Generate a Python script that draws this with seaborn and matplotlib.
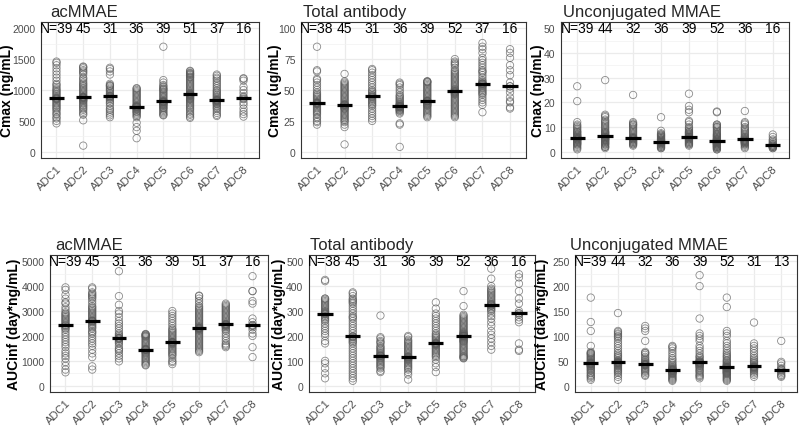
import numpy as np
import pandas as pd
import matplotlib
matplotlib.use("Agg")
import matplotlib.pyplot as plt
from matplotlib.ticker import MultipleLocator
import seaborn as sns

ADCS = ["ADC1", "ADC2", "ADC3", "ADC4", "ADC5", "ADC6", "ADC7", "ADC8"]

# ── acMMAE Cmax (ng/mL) ───────────────────────────────────────────
acmmae_cmax = [
    [460, 500, 540, 560, 600, 620, 650, 680, 700, 720, 740, 760, 780, 800, 820, 840, 850, 860, 860, 870,
     880, 900, 920, 940, 960, 980, 1000, 1020, 1050, 1080, 1100, 1150, 1200, 1250, 1300, 1350, 1400, 1440, 1460],
    [100, 510, 600, 620, 650, 680, 700, 720, 740, 760, 780, 800, 820, 830, 840, 850, 860, 870, 875, 880,
     880, 885, 890, 900, 920, 940, 960, 980, 1000, 1020, 1040, 1060, 1080, 1100, 1120, 1150, 1180, 1200,
     1250, 1280, 1300, 1320, 1350, 1370, 1380],
    [560, 590, 620, 650, 680, 700, 740, 780, 800, 830, 850, 870, 880, 890, 900, 905, 910, 930, 950, 980,
     1000, 1020, 1040, 1060, 1070, 1080, 1100, 1250, 1300, 1340, 1360],
    [220, 340, 400, 470, 560, 580, 600, 620, 640, 650, 660, 680, 690, 700, 710, 720, 725, 730, 735, 740,
     750, 760, 780, 800, 820, 840, 860, 880, 900, 920, 940, 960, 980, 1000, 1020, 1030],
    [590, 600, 620, 640, 660, 680, 700, 710, 720, 740, 750, 760, 770, 780, 790, 800, 805, 810, 810, 815,
     820, 830, 840, 860, 880, 900, 920, 940, 960, 980, 1000, 1010, 1020, 1040, 1060, 1080, 1120, 1160, 1700],
    [550, 570, 600, 620, 650, 680, 700, 720, 740, 760, 780, 800, 820, 840, 850, 860, 870, 880, 890, 900,
     905, 910, 915, 920, 925, 930, 935, 940, 950, 960, 980, 1000, 1020, 1040, 1060, 1080, 1100, 1120, 1140,
     1160, 1180, 1200, 1210, 1220, 1240, 1250, 1260, 1270, 1280, 1300, 1310],
    [580, 600, 630, 660, 690, 710, 730, 750, 770, 780, 790, 800, 810, 820, 825, 830, 835, 835, 840, 850,
     860, 880, 900, 920, 940, 960, 980, 1000, 1030, 1060, 1090, 1120, 1150, 1180, 1200, 1230, 1250],
    [570, 610, 650, 700, 760, 800, 850, 860, 880, 900, 950, 1000, 1050, 1150, 1180, 1190],
]
acmmae_cmax_n = [39, 45, 31, 36, 39, 51, 37, 16]

# ── Total antibody Cmax (ug/mL) ───────────────────────────────────
tab_cmax = [
    [22, 24, 25, 27, 28, 30, 31, 32, 33, 34, 35, 36, 37, 38, 38.5, 39, 39, 39.5, 39.5, 40, 40, 41, 42, 43,
     44, 45, 46, 47, 48, 50, 52, 54, 56, 58, 59, 65, 66, 85],
    [6, 20, 22, 24, 25, 26, 27, 28, 29, 30, 31, 32, 33, 34, 35, 35, 36, 36, 37, 37, 37.5, 38, 38, 38, 38.5,
     39, 40, 41, 42, 43, 44, 45, 46, 47, 48, 49, 50, 51, 52, 53, 54, 55, 56, 57, 63],
    [25, 27, 29, 31, 33, 35, 37, 38, 39, 40, 41, 42, 43, 44, 44.5, 45, 45.5, 46, 47, 48, 49, 50, 52, 54,
     56, 58, 60, 62, 64, 66, 67],
    [4, 22, 23, 31, 32, 33, 33.5, 34, 34.5, 35, 35.5, 36, 36, 36.5, 36.5, 37, 37, 37, 37, 37.5, 38, 38.5,
     39, 40, 41, 42, 43, 44, 45, 46, 48, 50, 52, 54, 55, 56],
    [28, 29, 30, 31, 32, 33, 34, 35, 36, 37, 37.5, 38, 38.5, 39, 39.5, 40, 40.5, 41, 41, 41, 41.5, 42, 43,
     44, 45, 46, 47, 48, 49, 50, 51, 52, 53, 54, 55, 56, 56.5, 57, 57],
    [28, 29, 30, 31, 32, 33, 34, 35, 36, 37, 38, 39, 40, 41, 42, 43, 44, 45, 46, 46.5, 47, 47.5, 48, 48,
     48.5, 49, 49, 49.5, 50, 50.5, 51, 52, 53, 54, 55, 56, 57, 58, 59, 60, 61, 62, 63, 64, 65, 66, 68, 70,
     71, 72, 73, 75],
    [32, 38, 40, 42, 44, 46, 47, 48, 49, 50, 51, 52, 53, 53.5, 54, 54.5, 55, 55, 55, 55.5, 56, 57, 58, 60,
     62, 64, 65, 66, 68, 70, 72, 74, 76, 80, 83, 85, 88],
    [35, 36, 40, 41, 44, 48, 51, 53, 53, 56, 62, 66, 70, 76, 80, 83],
]
tab_cmax_n = [38, 45, 31, 36, 39, 52, 37, 16]

# ── Unconjugated MMAE Cmax (ng/mL) ────────────────────────────────
mmae_cmax = [
    [1, 1.5, 2, 2.5, 3, 3, 3.5, 3.5, 4, 4, 4.5, 4.5, 5, 5, 5, 5, 5.5, 5.5, 5.5, 5.5, 6, 6, 6, 6.5, 6.5, 7,
     7, 7.5, 8, 8, 8.5, 9, 9.5, 10, 10.5, 11, 12, 20.5, 26.5],
    [1.5, 2, 2, 2.5, 3, 3, 3.5, 3.5, 4, 4, 4.5, 4.5, 5, 5, 5, 5.5, 5.5, 5.5, 6, 6, 6, 6, 6.5, 6.5, 7, 7,
     7.5, 7.5, 8, 8, 8.5, 9, 9.5, 10, 10.5, 11, 11.5, 12, 12.5, 13, 14, 14.5, 15, 29],
    [2.5, 3, 3, 3.5, 3.5, 4, 4, 4.5, 4.5, 5, 5, 5, 5.5, 5.5, 5.5, 5.5, 6, 6, 6.5, 7, 7.5, 8, 8.5, 9, 9.5,
     10, 10.5, 11, 11, 11.5, 12, 23],
    [1.5, 1.5, 2, 2, 2.5, 2.5, 3, 3, 3, 3.5, 3.5, 3.5, 3.5, 4, 4, 4, 4, 4, 4, 4.5, 4.5, 4.5, 5, 5, 5, 5.5,
     5.5, 6, 6, 6.5, 6.5, 7, 7, 7.5, 8.5, 14],
    [2.5, 3, 3, 3.5, 3.5, 4, 4, 4.5, 4.5, 5, 5, 5, 5.5, 5.5, 5.5, 6, 6, 6, 6, 6, 6.5, 6.5, 7, 7, 7.5, 7.5,
     8, 8, 8.5, 9, 9.5, 10, 11, 12, 12.5, 16, 17, 18.5, 23.5],
    [1, 1, 1.5, 1.5, 2, 2, 2, 2.5, 2.5, 2.5, 3, 3, 3, 3, 3.5, 3.5, 3.5, 3.5, 4, 4, 4, 4, 4, 4, 4.5, 4.5,
     4.5, 4.5, 5, 5, 5, 5, 5.5, 5.5, 6, 6, 6.5, 6.5, 7, 7, 7.5, 8, 8.5, 9, 9.5, 10, 10, 10.5, 11, 11, 16,
     16.3],
    [1.5, 2, 2.5, 3, 3, 3.5, 3.5, 3.5, 4, 4, 4, 4, 4.5, 4.5, 4.5, 4.5, 4.5, 5, 5, 5, 5.5, 5.5, 6, 6, 6.5,
     7, 7.5, 8, 8.5, 9, 9.5, 10, 11, 11.5, 12, 16.5],
    [1.5, 1.5, 2, 2, 2, 2.5, 2.5, 2.5, 3, 3, 3.5, 4, 4.5, 5, 6, 7],
]
mmae_cmax_n = [39, 44, 32, 36, 39, 52, 36, 16]

# ── acMMAE AUCinf (day*ng/mL) ─────────────────────────────────────
acmmae_auc = [
    [540, 650, 800, 950, 1100, 1200, 1300, 1400, 1550, 1650, 1750, 1850, 1950, 2050, 2150, 2250, 2300,
     2350, 2400, 2420, 2450, 2500, 2550, 2600, 2650, 2700, 2750, 2800, 2850, 2900, 2950, 3050, 3150, 3300,
     3350, 3500, 3650, 3850, 3950],
    [650, 780, 1150, 1300, 1450, 1600, 1700, 1800, 1900, 2000, 2100, 2150, 2200, 2300, 2350, 2400, 2450,
     2500, 2550, 2580, 2600, 2600, 2620, 2650, 2700, 2750, 2800, 2850, 2900, 2950, 3000, 3050, 3100, 3150,
     3200, 3300, 3400, 3500, 3550, 3600, 3650, 3700, 3750, 3900, 3950],
    [980, 1100, 1200, 1300, 1400, 1450, 1500, 1600, 1700, 1750, 1800, 1850, 1880, 1900, 1910, 1920, 1950,
     2000, 2050, 2100, 2200, 2300, 2400, 2500, 2600, 2750, 2900, 3000, 3250, 3600, 4600],
    [820, 850, 900, 950, 1000, 1050, 1100, 1150, 1200, 1250, 1300, 1330, 1360, 1390, 1420, 1440, 1450,
     1450, 1460, 1480, 1500, 1550, 1600, 1650, 1700, 1750, 1800, 1850, 1900, 1950, 1980, 2000, 2020, 2050,
     2060, 2080],
    [870, 950, 1000, 1100, 1200, 1250, 1300, 1350, 1400, 1450, 1500, 1550, 1600, 1650, 1680, 1700, 1720,
     1740, 1750, 1750, 1760, 1800, 1850, 1900, 1950, 2000, 2050, 2100, 2150, 2200, 2250, 2300, 2400, 2500,
     2600, 2700, 2800, 2900, 3000],
    [1350, 1400, 1450, 1500, 1550, 1600, 1650, 1700, 1750, 1800, 1850, 1900, 1950, 2000, 2050, 2100, 2150,
     2200, 2220, 2250, 2270, 2290, 2300, 2310, 2320, 2320, 2330, 2350, 2380, 2400, 2450, 2500, 2550, 2600,
     2650, 2700, 2750, 2800, 2850, 2900, 2950, 3000, 3050, 3100, 3150, 3200, 3300, 3400, 3500, 3600, 3620],
    [1550, 1600, 1650, 1700, 1800, 1900, 2000, 2100, 2200, 2250, 2300, 2350, 2380, 2400, 2420, 2440, 2450,
     2460, 2460, 2480, 2500, 2550, 2600, 2650, 2700, 2750, 2800, 2850, 2900, 2950, 3000, 3050, 3100, 3150,
     3200, 3250, 3300],
    [1150, 1550, 2000, 2100, 2250, 2350, 2400, 2420, 2440, 2550, 2700, 3300, 3400, 3800, 3800, 4400],
]
acmmae_auc_n = [39, 45, 31, 36, 39, 51, 37, 16]

# ── Total antibody AUCinf (day*ug/mL) ─────────────────────────────
tab_auc = [
    [30, 50, 70, 90, 100, 170, 180, 200, 210, 220, 230, 240, 250, 260, 265, 270, 275, 280, 285, 288, 290,
     292, 295, 298, 300, 305, 310, 315, 320, 325, 330, 335, 340, 345, 350, 350, 420, 425],
    [20, 30, 40, 50, 60, 70, 80, 90, 100, 110, 120, 130, 140, 150, 160, 170, 175, 180, 185, 190, 195, 197,
     198, 200, 210, 220, 230, 240, 250, 260, 270, 275, 280, 290, 300, 310, 320, 330, 335, 340, 345, 350,
     360, 370, 375],
    [55, 60, 70, 75, 80, 85, 90, 95, 100, 105, 110, 112, 115, 118, 120, 120, 122, 125, 130, 135, 140, 145,
     150, 155, 160, 170, 175, 180, 190, 195, 282],
    [25, 45, 55, 65, 70, 75, 80, 85, 90, 95, 100, 103, 106, 108, 110, 112, 114, 115, 116, 118, 120, 125,
     130, 135, 140, 145, 150, 155, 160, 165, 170, 175, 180, 185, 195, 200],
    [55, 75, 90, 105, 115, 120, 125, 130, 135, 140, 145, 150, 155, 160, 163, 165, 167, 169, 170, 170, 172,
     175, 180, 185, 190, 195, 200, 205, 210, 220, 230, 240, 250, 260, 270, 280, 290, 310, 335],
    [110, 112, 115, 118, 120, 125, 130, 135, 140, 145, 150, 155, 160, 165, 170, 175, 178, 180, 183, 186,
     189, 192, 194, 196, 198, 199, 200, 200, 201, 202, 204, 206, 208, 210, 213, 216, 220, 225, 230, 235,
     240, 245, 250, 255, 260, 265, 270, 275, 280, 285, 320, 380],
    [145, 160, 175, 190, 205, 220, 240, 255, 270, 280, 290, 300, 305, 310, 315, 320, 322, 324, 326, 328,
     330, 335, 340, 345, 350, 355, 360, 365, 370, 375, 380, 385, 390, 400, 430, 470],
    [140, 145, 170, 255, 265, 275, 285, 290, 292, 300, 330, 350, 380, 410, 435, 448],
]
tab_auc_n = [38, 45, 31, 36, 39, 52, 36, 16]

# ── Unconjugated MMAE AUCinf (day*ng/mL) ──────────────────────────
mmae_auc = [
    [12, 15, 18, 20, 22, 25, 27, 30, 32, 34, 36, 38, 39, 40, 41, 42, 43, 44, 44, 45, 45, 46, 47, 48, 50,
     52, 54, 56, 58, 60, 62, 64, 65, 66, 68, 80, 110, 128, 177],
    [12, 18, 22, 26, 28, 30, 32, 34, 36, 38, 40, 41, 42, 43, 44, 45, 45, 46, 46, 46, 47, 47, 48, 49, 50,
     52, 55, 58, 60, 63, 66, 70, 75, 80, 85, 90, 95, 98, 100, 103, 105, 108, 110, 146],
    [20, 22, 25, 28, 30, 32, 34, 36, 38, 40, 41, 42, 42, 43, 43, 43, 44, 45, 46, 48, 50, 52, 55, 58, 62,
     65, 66, 68, 90, 110, 115, 120],
    [10, 12, 14, 16, 18, 20, 22, 24, 25, 26, 27, 28, 29, 30, 30, 31, 31, 32, 32, 33, 34, 35, 36, 38, 40,
     42, 45, 48, 52, 55, 60, 65, 70, 75, 78, 80],
    [15, 18, 20, 22, 25, 28, 30, 32, 35, 37, 39, 40, 42, 43, 44, 45, 46, 46, 47, 47, 48, 49, 50, 52, 55,
     58, 60, 65, 70, 75, 80, 90, 95, 100, 105, 135, 200, 222],
    [10, 12, 14, 16, 18, 20, 22, 24, 25, 26, 27, 28, 29, 30, 31, 32, 33, 34, 35, 35, 36, 36, 37, 37, 37,
     37, 38, 38, 39, 40, 41, 42, 44, 46, 48, 50, 52, 55, 58, 60, 63, 66, 70, 75, 80, 85, 90, 100, 105,
     110, 158, 177],
    [18, 22, 25, 28, 30, 32, 33, 34, 35, 36, 37, 37, 38, 38, 38, 39, 40, 42, 44, 46, 48, 50, 53, 56, 60,
     65, 70, 75, 80, 85, 127],
    [18, 20, 22, 25, 28, 30, 32, 33, 35, 40, 45, 48, 90],
]
mmae_auc_n = [39, 44, 32, 36, 39, 52, 31, 13]

TITLES = ["acMMAE", "Total antibody", "Unconjugated MMAE"]
YLABELS = ["Cmax (ng/mL)", "Cmax (ug/mL)", "Cmax (ng/mL)",
           "AUCinf (day*ng/mL)", "AUCinf (day*ug/mL)", "AUCinf (day*ng/mL)"]
YTOPS = [2000, 100, 50, 5000, 500, 250]
YSTEPS = [500, 25, 10, 1000, 100, 50]

# pixel boxes (left, top, right, bottom), y-label centre x, title left x
BOXES = [(41, 23, 259, 159), (301, 23, 526, 159), (561, 23, 789, 159),
         (50, 256, 268, 393), (309, 256, 535, 393), (575, 256, 797, 393)]
LABEL_X = [7.5, 275, 538, 14, 279, 542]
TITLE_X = [50, 303, 563, 55, 310, 570]

W, H = 800, 427

sns.set_theme(style="whitegrid")
plt.rcParams["font.family"] = ["Liberation Sans", "DejaVu Sans"]


def draw_panel(fig, idx, groups, counts):
    l, t, r, b = BOXES[idx]
    ax = fig.add_axes([l / W, 1 - b / H, (r - l) / W, (b - t) / H])
    df = pd.DataFrame({"ADC": np.repeat(ADCS, [len(g) for g in groups]),
                       "value": np.concatenate([np.asarray(g, float) for g in groups])})
    sns.stripplot(data=df, x="ADC", y="value", order=ADCS, jitter=False, size=5.3,
                  facecolor="none", edgecolor="#5a5a5a", linewidth=0.6, alpha=0.7,
                  ax=ax, zorder=3)
    sns.boxplot(data=df, x="ADC", y="value", order=ADCS, width=0.55,
                showbox=False, showcaps=False, showfliers=False,
                whiskerprops={"visible": False},
                medianprops={"color": "black", "linewidth": 2.3, "zorder": 5}, ax=ax)
    top = YTOPS[idx]
    for i, n in enumerate(counts):
        ax.text(i, top, f"N={n}" if i == 0 else str(n), ha="center", va="center",
                fontsize=10, color="black", zorder=6)

    ax.set_xlim(-0.58, 7.58)
    ax.set_ylim(-0.05 * top, 1.05 * top)
    ax.yaxis.set_major_locator(MultipleLocator(YSTEPS[idx]))
    ax.yaxis.set_minor_locator(MultipleLocator(YSTEPS[idx] / 2))
    ax.set_axisbelow(True)
    ax.grid(True, which="major", color="#EBEBEB", lw=0.9)
    ax.grid(True, which="minor", axis="y", color="#F2F2F2", lw=0.5)
    ax.xaxis.grid(True, color="#EBEBEB", lw=0.9)
    for s in ax.spines.values():
        s.set_color("#333333")
        s.set_linewidth(0.8)
    ax.tick_params(axis="both", which="major", length=2.5, width=0.6, color="#333333",
                   labelcolor="#4D4D4D", pad=1.5)
    ax.tick_params(axis="y", which="minor", length=0)
    ax.tick_params(axis="y", labelsize=7.5)
    ax.tick_params(axis="x", labelsize=8)
    for lab in ax.get_xticklabels():
        lab.set_rotation(45)
        lab.set_ha("right")
        lab.set_rotation_mode("anchor")
    ax.set_xlabel("")
    ax.set_ylabel(YLABELS[idx], fontsize=10, fontweight="bold", color="black", va="center")
    ax.yaxis.set_label_coords((LABEL_X[idx] - l) / (r - l), 0.5)
    ax.set_title(TITLES[idx % 3], loc="left", fontsize=12, pad=4,
                 x=(TITLE_X[idx] - l) / (r - l))
    return ax


fig = plt.figure(figsize=(8, 4.27), dpi=100, facecolor="white")
panels = [(acmmae_cmax, acmmae_cmax_n), (tab_cmax, tab_cmax_n), (mmae_cmax, mmae_cmax_n),
          (acmmae_auc, acmmae_auc_n), (tab_auc, tab_auc_n), (mmae_auc, mmae_auc_n)]
for i, (groups, counts) in enumerate(panels):
    draw_panel(fig, i, groups, counts)

fig.savefig("out.png", dpi=100, facecolor="white")
